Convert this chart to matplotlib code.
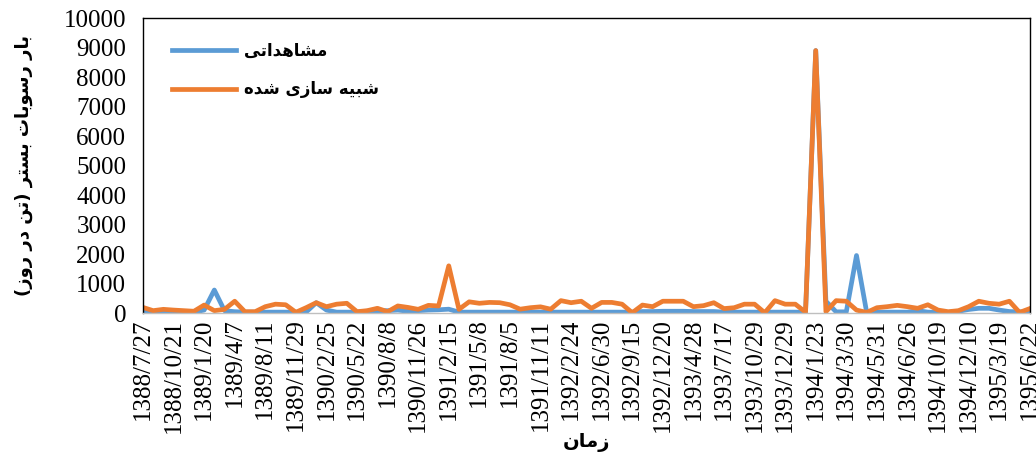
import matplotlib
matplotlib.use("Agg")
import matplotlib.pyplot as plt
import numpy as np

# tick labels (every third sampling date)
tick_labels = [
    "1388/7/27", "1388/10/21", "1389/1/20", "1389/4/7", "1389/8/11",
    "1389/11/29", "1390/2/25", "1390/5/22", "1390/8/8", "1390/11/26",
    "1391/2/15", "1391/5/8", "1391/8/5", "1391/11/11", "1392/2/24",
    "1392/6/30", "1392/9/15", "1392/12/20", "1393/4/28", "1393/7/17",
    "1393/10/29", "1393/12/29", "1394/1/23", "1394/3/30", "1394/5/31",
    "1394/6/26", "1394/10/19", "1394/12/10", "1395/3/19", "1395/6/22",
]

# bed load, ton per day
observed = [
    20, 20, 20, 20, 20, 30, 100, 780, 80, 45,
    30, 30, 30, 30, 30, 30, 30, 350, 100, 30,
    30, 30, 60, 80, 80, 100, 60, 80, 100, 110,
    130, 30, 30, 30, 30, 30, 30, 30, 30, 30,
    30, 30, 30, 30, 30, 30, 30, 30, 30, 50,
    50, 60, 60, 60, 50, 50, 50, 30, 30, 30,
    30, 30, 30, 30, 30, 30, 8900, 400, 40, 40,
    1950, 20, 30, 30, 30, 30, 80, 30, 20, 20,
    60, 120, 160, 160, 100, 50, 40, 40,
]
simulated = [
    190, 80, 125, 100, 80, 60, 270, 80, 125, 400,
    45, 45, 215, 300, 280, 25, 180, 350, 215, 300,
    330, 45, 80, 160, 45, 240, 190, 125, 260, 240,
    1600, 125, 380, 330, 360, 350, 280, 130, 180, 210,
    130, 420, 350, 400, 160, 360, 360, 300, 10, 270,
    215, 400, 400, 400, 215, 250, 350, 150, 180, 300,
    300, 10, 420, 300, 300, 30, 8900, 45, 420, 400,
    100, 20, 180, 215, 260, 215, 160, 280, 100, 45,
    80, 215, 400, 330, 300, 400, 20, 150,
]

label_observed = "مشاهداتی"
label_simulated = "شبیه سازی شده"
label_x = "زمان"
label_y = "بار رسوبات بستر (تن در روز)"

# matplotlib does no arabic shaping, so pick presentation forms by hand
FORMS = {
    "ا": ("\uFE8D", "\uFE8E", None, None),
    "ب": ("\uFE8F", "\uFE90", "\uFE91", "\uFE92"),
    "ت": ("\uFE95", "\uFE96", "\uFE97", "\uFE98"),
    "د": ("\uFEA9", "\uFEAA", None, None),
    "ر": ("\uFEAD", "\uFEAE", None, None),
    "ز": ("\uFEAF", "\uFEB0", None, None),
    "س": ("\uFEB1", "\uFEB2", "\uFEB3", "\uFEB4"),
    "ش": ("\uFEB5", "\uFEB6", "\uFEB7", "\uFEB8"),
    "م": ("\uFEE1", "\uFEE2", "\uFEE3", "\uFEE4"),
    "ن": ("\uFEE5", "\uFEE6", "\uFEE7", "\uFEE8"),
    "ه": ("\uFEE9", "\uFEEA", "\uFEEB", "\uFEEC"),
    "و": ("\uFEED", "\uFEEE", None, None),
    "ی": ("\uFEEF", "\uFEF0", "\uFEF3", "\uFEF4"),
}


def shape_fa(text: str) -> str:
    out = []
    for i, ch in enumerate(text):
        if ch not in FORMS:
            out.append(ch)
            continue
        iso, fin, ini, med = FORMS[ch]
        prev = text[i - 1] if i > 0 else ""
        nxt = text[i + 1] if i + 1 < len(text) else ""
        joins_prev = prev in FORMS and FORMS[prev][2] is not None
        joins_next = ini is not None and nxt in FORMS
        if joins_prev and joins_next:
            out.append(med)
        elif joins_prev:
            out.append(fin)
        elif joins_next:
            out.append(ini)
        else:
            out.append(iso)
    visual = "".join(reversed(out))
    return visual.translate(str.maketrans("()", ")("))


fa_font = dict(family="DejaVu Sans", weight="bold")

fig = plt.figure(figsize=(10.36, 4.53), dpi=100)
ax = fig.add_axes([0.138, 0.309, 0.856, 0.651])

x = np.arange(len(observed))
ax.plot(x, observed, color="#5B9BD5", linewidth=3.4, label=shape_fa(label_observed),
        solid_joinstyle="round")
ax.plot(x, simulated, color="#ED7D31", linewidth=3.4, label=shape_fa(label_simulated),
        solid_joinstyle="round")

ax.set_xlim(0, len(observed) - 1)
ax.set_ylim(0, 10000)
ax.set_yticks(np.arange(0, 10001, 1000))
ax.set_xticks(x[::3])
ax.set_xticklabels(tick_labels, rotation=90, family="Liberation Serif", fontsize=18)
ax.set_yticklabels([str(v) for v in range(0, 10001, 1000)],
                   family="Liberation Serif", fontsize=18)
ax.tick_params(axis="x", length=0, pad=4)
ax.tick_params(axis="y", length=0, pad=12)

for side in ["left", "right", "top"]:
    ax.spines[side].set_color("black")
    ax.spines[side].set_linewidth(1.0)
ax.spines["bottom"].set_color("#BFBFBF")
ax.spines["bottom"].set_linewidth(1.0)

ax.set_xlabel(shape_fa(label_x), fontsize=14, labelpad=0, **fa_font)
ax.set_ylabel(shape_fa(label_y), fontsize=13, labelpad=22, **fa_font)

ax.legend(loc="upper left", frameon=False, prop=dict(size=12, **fa_font),
          handlelength=3.8, handletextpad=0.5, borderaxespad=0.3,
          labelspacing=1.25, bbox_to_anchor=(0.02, 0.96))

fig.savefig("out.png", dpi=100)
